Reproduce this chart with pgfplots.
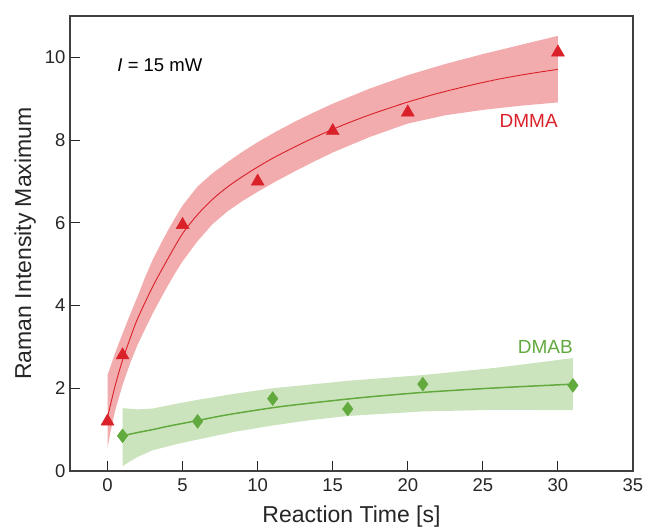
\documentclass[border=0pt]{standalone}
\usepackage{pgfplots}
\pgfplotsset{compat=1.18}
\usepackage{fontspec}
\setmainfont{Liberation Sans}
\definecolor{rmark}{RGB}{218,32,40}
\definecolor{rband}{RGB}{242,172,174}
\definecolor{gmark}{RGB}{98,170,62}
\definecolor{gband}{RGB}{204,228,190}
\begin{document}
\begin{tikzpicture}
\path[use as bounding box] (-70pt,-56pt) rectangle (576pt,471pt);
\begin{axis}[
  at={(0pt,0pt)}, anchor=south west,
  scale only axis, width=563pt, height=455pt,
  xmin=-2.5, xmax=35, ymin=0, ymax=11,
  xtick={0,5,...,35}, ytick={0,2,...,10},
  tick align=inside, xtick pos=bottom, ytick pos=left,
  major tick length=10pt,
  tick style={black!85, line width=1pt},
  axis line style={black!75, line width=1.1pt},
  /pgf/number format/assume math mode=true,
  ticklabel style={font=\fontsize{18.5}{20}\selectfont, text=black!85},
  xticklabel style={yshift=-4pt},
  yticklabel style={xshift=-1pt},
  xlabel={Reaction Time [s]},
  ylabel={Raman Intensity Maximum},
  label style={font=\fontsize{23}{26}\selectfont, text=black!85},
  xlabel style={at={(axis description cs:0.5,-0.114)}, anchor=base},
  ylabel style={at={(axis description cs:-0.069,0.5)}, anchor=base, rotate=0},
  clip=false,
]
% DMMA confidence band
\addplot[fill=rband, draw=none] coordinates {
 (0,2.32) (0.5,2.85) (1,3.32) (1.5,3.78) (2,4.22) (2.5,4.68) (3,5.10) (3.5,5.46) (4,5.80) (4.5,6.12) (5,6.42) (6,6.88) (7,7.20) (8,7.47) (9,7.72) (10,7.95) (11.25,8.21) (12.5,8.45) (13.75,8.67) (15,8.88) (17.5,9.25) (20,9.57) (22.5,9.84) (25,10.08) (27.5,10.30) (30,10.52)
 (30,8.91) (27.5,8.83) (25,8.73) (22.5,8.60) (20,8.40) (17.5,8.08) (15,7.70) (13.75,7.48) (12.5,7.25) (11.25,7.01) (10,6.75) (9,6.53) (8,6.28) (7,5.97) (6,5.56) (5,5.07) (4.5,4.78) (4,4.47) (3.5,4.14) (3,3.80) (2.5,3.43) (2,3.05) (1.5,2.60) (1,2.08) (0.5,1.45) (0.2,0.95) (0,0.56)
} -- cycle;
% DMAB confidence band
\addplot[fill=gband, draw=none] coordinates {
 (1,1.52) (2,1.49) (3,1.51) (4.5,1.62) (6,1.72) (8.5,1.87) (11,2.00) (13.5,2.09) (16,2.18) (21,2.32) (26,2.50) (31,2.73)
 (31,1.47) (26,1.48) (21,1.44) (16,1.33) (13.5,1.23) (11,1.10) (8.5,0.95) (6,0.76) (4.5,0.64) (3,0.50) (2,0.34) (1,0.12)
} -- cycle;
% DMMA fit
\addplot[rmark, line width=0.9pt, smooth] coordinates {
 (0,1.30) (0.5,2.05) (1,2.68) (1.5,3.20) (2,3.68) (3,4.45) (4,5.12) (5,5.74) (6,6.20) (7,6.57) (8,6.87) (9,7.12) (10,7.35) (11,7.56) (12,7.75) (13,7.93) (14,8.10) (15,8.26) (16,8.41) (17,8.55) (18,8.68) (19,8.80) (20,8.92) (22,9.13) (24,9.31) (26,9.47) (28,9.60) (30,9.71)
};
% DMAB fit
\addplot[gmark, line width=1.5pt, smooth] coordinates {
 (1,0.85) (2,0.93) (3,1.00) (4,1.08) (5,1.15) (6,1.22) (8,1.36) (11,1.53) (13,1.62) (16,1.74) (18,1.81) (21,1.90) (24,1.97) (27,2.03) (31,2.10)
};
% DMMA data
\addplot[only marks, mark=triangle*, mark size=7.5pt, mark options={fill=rmark, draw=rmark}] coordinates {
 (0,1.2) (1,2.8) (5,5.95) (10,7.0) (15,8.22) (20,8.67) (30,10.12)
};
% DMAB data
\addplot[only marks, mark=diamond*, mark size=7pt, mark options={fill=gmark, draw=gmark}] coordinates {
 (1,0.85) (6,1.2) (11,1.75) (16,1.5) (21,2.1) (31,2.07)
};
\node[anchor=west, inner sep=0pt, font=\fontsize{18.5}{20}\selectfont] at (axis cs:0.65,9.82) {\textit{I} = 15 mW};
\node[anchor=east, inner sep=0pt, text=rmark, font=\fontsize{19}{22}\selectfont] at (axis cs:30,8.47) {DMMA};
\node[anchor=east, inner sep=0pt, text=gmark, font=\fontsize{19}{22}\selectfont] at (axis cs:31,3.0) {DMAB};
\end{axis}
\end{tikzpicture}
\end{document}
